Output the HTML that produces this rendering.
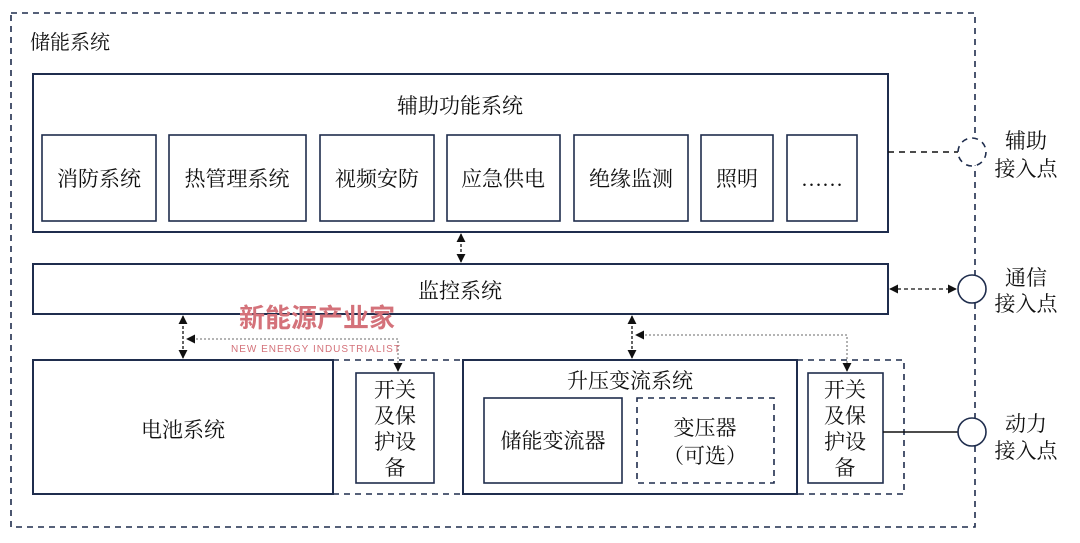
<!DOCTYPE html>
<html><head><meta charset="utf-8"><style>
body{margin:0;background:#fff}
svg text{font-family:"Liberation Serif","Noto Serif CJK SC",serif;fill:#111;font-size:21px}
</style></head><body>
<svg width="1080" height="538" viewBox="0 0 1080 538" xmlns="http://www.w3.org/2000/svg">
<defs>
<marker id="a" viewBox="0 0 10 10" refX="9" refY="5" markerWidth="7" markerHeight="7" orient="auto-start-reverse"><path d="M0,0L10,5L0,10z" fill="#111"/></marker>
</defs>
<g fill="none" stroke="#1f2d4d" stroke-width="1.6">
<rect x="11" y="13" width="964" height="514" stroke-dasharray="6,5"/>
<rect x="33" y="74" width="855" height="158" stroke-width="2"/>
<rect x="42" y="135" width="114" height="86"/>
<rect x="169" y="135" width="137" height="86"/>
<rect x="320" y="135" width="114" height="86"/>
<rect x="447" y="135" width="113" height="86"/>
<rect x="574" y="135" width="114" height="86"/>
<rect x="701" y="135" width="72" height="86"/>
<rect x="787" y="135" width="70" height="86"/>
<rect x="33" y="264" width="855" height="50" stroke-width="2"/>
<rect x="33" y="360" width="300" height="134" stroke-width="2"/>
<path d="M333 360H463M333 494H463" stroke-dasharray="6,5"/>
<rect x="356" y="373" width="78" height="110"/>
<rect x="463" y="360" width="334" height="134" stroke-width="2"/>
<rect x="484" y="398" width="138" height="85"/>
<rect x="637" y="398" width="137" height="85" stroke-dasharray="6,5"/>
<path d="M797 360H904V494H797" stroke-dasharray="6,5"/>
<rect x="808" y="373" width="75" height="110"/>
<path d="M888 152H958" stroke-dasharray="6,5" stroke="#111"/>
<path d="M883 432H958" stroke="#111"/>
<circle cx="972" cy="152" r="14" fill="#fff" stroke-dasharray="6,5"/>
<circle cx="972" cy="289" r="14" fill="#fff"/>
<circle cx="972" cy="432" r="14" fill="#fff"/>
</g>
<g stroke="#111" stroke-width="1.3" fill="none">
<path d="M461 234V262" stroke-dasharray="3,2" marker-start="url(#a)" marker-end="url(#a)"/>
<path d="M890 289H956" stroke-dasharray="4,3" marker-start="url(#a)" marker-end="url(#a)"/>
<path d="M183 316V358" stroke-dasharray="3,2" marker-start="url(#a)" marker-end="url(#a)"/>
<path d="M632 316V358" stroke-dasharray="3,2" marker-start="url(#a)" marker-end="url(#a)"/>
<path d="M398 371V339H187" stroke="#888" stroke-dasharray="2,2" marker-start="url(#a)" marker-end="url(#a)"/>
<path d="M847 371V335H636" stroke="#888" stroke-dasharray="2,2" marker-start="url(#a)" marker-end="url(#a)"/>
</g>
<text x="30" y="49" style="font-size:20px">储能系统</text>
<text x="460" y="113" text-anchor="middle">辅助功能系统</text>
<g text-anchor="middle">
<text x="99" y="186">消防系统</text>
<text x="237" y="186">热管理系统</text>
<text x="377" y="186">视频安防</text>
<text x="503" y="186">应急供电</text>
<text x="631" y="186">绝缘监测</text>
<text x="737" y="186">照明</text>
<text x="822" y="186">……</text>
<text x="460" y="298">监控系统</text>
<text x="183" y="437">电池系统</text>
<text x="395" y="397">开关</text><text x="395" y="423">及保</text><text x="395" y="449">护设</text><text x="395" y="475">备</text>
<text x="845" y="397">开关</text><text x="845" y="423">及保</text><text x="845" y="449">护设</text><text x="845" y="475">备</text>
<text x="630" y="388">升压变流系统</text>
<text x="553" y="448">储能变流器</text>
<text x="705" y="435">变压器</text>
<text x="705" y="463">（可选）</text>
<text x="1026" y="148">辅助</text><text x="1026" y="176">接入点</text>
<text x="1026" y="285">通信</text><text x="1026" y="311">接入点</text>
<text x="1026" y="431">动力</text><text x="1026" y="458">接入点</text>
<text x="317" y="327" style="font-family:'Noto Sans CJK SC',sans-serif;font-weight:bold;font-size:26px;fill:#d4727a">新能源产业家</text>
<text x="316" y="352" style="font-family:'Liberation Sans',sans-serif;font-size:10px;fill:#d4727a;letter-spacing:1px">NEW ENERGY INDUSTRIALIST</text>
</g>
</svg>
</body></html>
